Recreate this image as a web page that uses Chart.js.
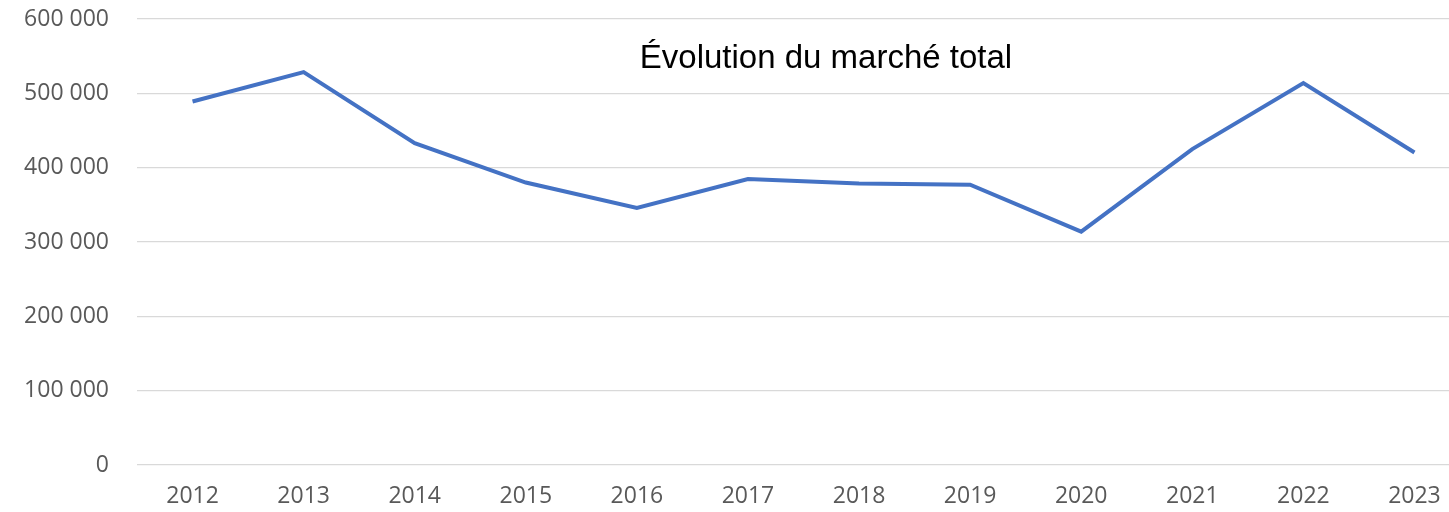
<!DOCTYPE html>
<html>
<head>
<meta charset="utf-8">
<script src="https://cdn.jsdelivr.net/npm/chart.js@4/dist/chart.umd.min.js"></script>
<style>
  html, body { margin: 0; padding: 0; background: #fff; overflow: hidden; }
  /* the original plot runs a little past the right edge, so the canvas is wider and clipped */
  #frame { width: 1449px; height: 512px; overflow: hidden; }
  #wrap { width: 1470px; height: 512px; }
</style>
</head>
<body>
<div id="frame"><div id="wrap"><canvas id="chart"></canvas></div></div>
<script>
const years = ['2012', '2013', '2014', '2015', '2016', '2017', '2018', '2019', '2020', '2021', '2022', '2023'];
const marketTotal = [489000, 528500, 433000, 380000, 345700, 384700, 378800, 377000, 314000, 425000, 513700, 420400];
const yTicks = [0, 100000, 200000, 300000, 400000, 500000, 600000];
const chartTitle = 'Évolution du marché total';

const fmt = v => String(v).replace(/\B(?=(\d{3})+(?!\d))/g, ' ');

// title sits inside the plot area, like the original
const innerTitle = {
  id: 'innerTitle',
  afterDraw(chart) {
    const { ctx, chartArea } = chart;
    ctx.save();
    ctx.font = '33px "Liberation Sans", Arial, sans-serif';
    ctx.fillStyle = '#000';
    ctx.textAlign = 'center';
    ctx.textBaseline = 'middle';
    ctx.fillText(chartTitle, chartArea.left + 689, chartArea.top + 40);
    ctx.restore();
  }
};

new Chart(document.getElementById('chart'), {
  type: 'line',
  data: {
    labels: years,
    datasets: [{
      data: marketTotal,
      borderColor: '#4472C4',
      borderWidth: 4,
      pointRadius: 0,
      tension: 0,
      fill: false
    }]
  },
  options: {
    responsive: true,
    maintainAspectRatio: false,
    animation: false,
    layout: { padding: { top: 19, right: 0, bottom: 0, left: 0 } },
    plugins: { legend: { display: false }, tooltip: { enabled: false } },
    scales: {
      x: {
        offset: true,
        grid: { display: false, drawTicks: false },
        border: { display: false },
        ticks: { color: '#595959', font: { family: 'Open Sans', size: 23 }, padding: 18, maxRotation: 0 },
        afterFit(axis) { axis.height = 47; axis.paddingRight = 0; }
      },
      y: {
        min: 0,
        max: 600000,
        afterBuildTicks(axis) { axis.ticks = yTicks.map(v => ({ value: v })); },
        grid: { color: '#d9d9d9', lineWidth: 1.3, drawTicks: false },
        border: { display: false },
        ticks: { color: '#595959', font: { family: 'Open Sans', size: 23 }, padding: 28, callback: v => fmt(v) },
        afterFit(axis) { axis.width = 137; axis.paddingTop = 0; axis.paddingBottom = 0; }
      }
    }
  },
  plugins: [innerTitle]
});
</script>
</body>
</html>
